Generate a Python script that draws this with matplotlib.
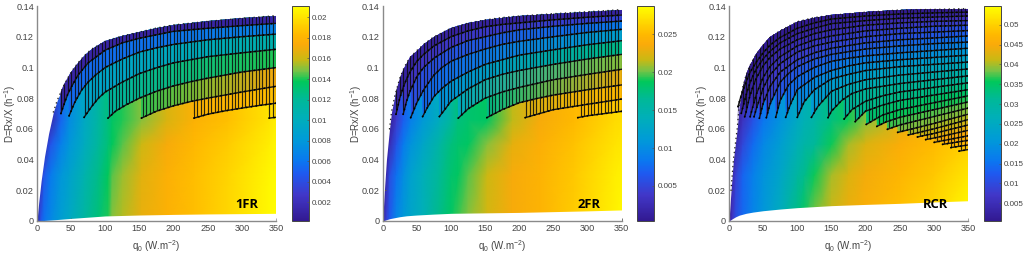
import numpy as np
import matplotlib
matplotlib.use('Agg')
import matplotlib.pyplot as plt
from matplotlib.colors import LinearSegmentedColormap
from matplotlib.patches import Polygon

plt.rcParams['font.family'] = ['Liberation Sans', 'DejaVu Sans']
plt.rcParams['mathtext.default'] = 'regular'

x_ticks = [0, 50, 100, 150, 200, 250, 300, 350]
y_ticks = [0, 0.02, 0.04, 0.06, 0.08, 0.1, 0.12, 0.14]
y_labels = ['0', '0.02', '0.04', '0.06', '0.08', '0.1', '0.12', '0.14']
hatch_q = np.arange(0, 351, 5)
field_d = [0, 0.03, 0.05, 0.066, 0.14]

# ---- 1FR
names1 = '1FR'
top_q1 = [0, 2.5, 6, 11, 17, 24, 30, 40, 50, 60, 70, 80, 100, 125, 150, 175, 200, 250, 300, 350]
top_d1 = [0, 0.012, 0.026, 0.042, 0.057, 0.071, 0.079, 0.089, 0.097, 0.103, 0.108, 0.112, 0.117,
          0.1205, 0.123, 0.1257, 0.1277, 0.130, 0.132, 0.1337]
bot_q1 = [0, 25, 50, 100, 150, 200, 250, 300, 350]
bot_d1 = [0, 0.0008, 0.0017, 0.0033, 0.0039, 0.0043, 0.0046, 0.0048, 0.0050]
curve_q1 = [[35, 40, 45, 50, 60, 75, 100, 125, 150, 200, 250, 300, 350],
            [47, 55, 65, 75, 87, 100, 125, 150, 175, 200, 250, 300, 350],
            [69, 80, 90, 100, 125, 150, 175, 200, 250, 300, 350],
            [104, 115, 130, 150, 175, 200, 225, 250, 300, 350],
            [153, 175, 200, 225, 250, 300, 350],
            [230, 250, 275, 300, 325, 350],
            [340, 350]]
curve_d1 = [[0.070, 0.0765, 0.0825, 0.087, 0.095, 0.103, 0.1113, 0.116, 0.119, 0.1235, 0.1255, 0.1272, 0.1287],
            [0.0685, 0.077, 0.085, 0.0905, 0.0955, 0.100, 0.1055, 0.110, 0.1128, 0.115, 0.118, 0.120, 0.1217],
            [0.0675, 0.0745, 0.080, 0.084, 0.0905, 0.096, 0.0998, 0.103, 0.107, 0.1095, 0.1118],
            [0.067, 0.0715, 0.0755, 0.080, 0.0845, 0.088, 0.0907, 0.093, 0.097, 0.0999],
            [0.067, 0.0715, 0.075, 0.0778, 0.080, 0.084, 0.0877],
            [0.067, 0.0695, 0.0717, 0.0735, 0.0752, 0.0767],
            [0.067, 0.0675]]
band_left1 = [0.0012, 0.0055, 0.009, 0.0115, 0.0142, 0.018, 0.0195]
band_right1 = [0.0012, 0.0068, 0.0108, 0.014, 0.0172, 0.0185, 0.0195]
field_q1 = [0, 5, 10, 20, 35, 47, 69, 90, 104, 110, 125, 153, 190, 230, 280, 340, 350]
field1 = [[.0003, .0045, .0058, .007, .0085, .0095, .0115, .013, .0140, .0150, .0156, .0168, .0178, .0185, .0195, .0208, .021],
          [.0003, .0018, .0045, .0062, .0078, .0088, .0108, .0125, .0137, .0145, .0153, .0166, .0177, .0185, .0194, .0207, .0209],
          [.0003, .0003, .0015, .0045, .0065, .0078, .0098, .0118, .013, .0137, .0145, .016, .0172, .0183, .0191, .0204, .0207],
          [.0003, .0003, .0003, .0015, .0052, .0072, .0095, .0115, .0128, .0135, .014, .015, .0163, .0178, .0186, .020, .0205],
          [.0003, .0003, .0003, .0015, .0052, .0072, .0095, .0115, .0128, .0135, .014, .015, .0163, .0178, .0186, .020, .0205]]
range1 = (0.0002, 0.0211)
cticks1 = [0.002, 0.004, 0.006, 0.008, 0.01, 0.012, 0.014, 0.016, 0.018, 0.02]
clabels1 = ['0.002', '0.004', '0.006', '0.008', '0.01', '0.012', '0.014', '0.016', '0.018', '0.02']

# ---- 2FR
names2 = '2FR'
top_q2 = [0, 2.5, 5.5, 10, 13, 18, 25, 30, 35, 40, 50, 60, 75, 100, 125, 150, 175, 200, 250, 300, 350]
top_d2 = [0, 0.02, 0.04, 0.06, 0.0712, 0.082, 0.093, 0.0985, 0.103, 0.1065, 0.111, 0.115, 0.120, 0.1255,
          0.1288, 0.131, 0.1325, 0.1335, 0.135, 0.1363, 0.1376]
bot_q2 = [0, 10, 25, 35, 50, 75, 100, 200, 300, 350]
bot_d2 = [0, 0.0015, 0.0028, 0.0034, 0.0039, 0.0045, 0.005, 0.0056, 0.0066, 0.0072]
curve_q2 = [[19.5, 25, 30, 35, 40, 50, 60, 75, 100, 125, 150, 175, 200, 250, 300, 350],
            [30, 35, 40, 50, 60, 75, 100, 125, 150, 175, 200, 250, 300, 350],
            [41, 50, 60, 75, 87, 100, 125, 150, 175, 200, 250, 300, 350],
            [58.5, 65, 75, 87, 100, 125, 150, 175, 200, 250, 300, 350],
            [83, 90, 100, 125, 150, 175, 200, 250, 300, 350],
            [110.7, 125, 150, 175, 200, 250, 300, 350],
            [152.6, 175, 200, 225, 250, 300, 350],
            [208.7, 250, 300, 350],
            [285.7, 300, 350]]
curve_d2 = [[0.0695, 0.080, 0.087, 0.0925, 0.097, 0.104, 0.1085, 0.114, 0.120, 0.1238, 0.1265, 0.128, 0.129, 0.131, 0.1327, 0.1341],
            [0.0695, 0.078, 0.0845, 0.094, 0.100, 0.106, 0.113, 0.1175, 0.120, 0.1225, 0.1245, 0.1268, 0.1287, 0.1302],
            [0.0673, 0.077, 0.0855, 0.095, 0.100, 0.104, 0.1085, 0.112, 0.115, 0.117, 0.120, 0.1228, 0.1248],
            [0.068, 0.0735, 0.081, 0.0865, 0.091, 0.097, 0.102, 0.105, 0.108, 0.1115, 0.1148, 0.1174],
            [0.068, 0.072, 0.078, 0.086, 0.092, 0.0955, 0.098, 0.102, 0.1055, 0.1085],
            [0.067, 0.073, 0.080, 0.084, 0.087, 0.092, 0.0955, 0.0988],
            [0.0673, 0.0725, 0.077, 0.0797, 0.082, 0.0855, 0.0886],
            [0.0673, 0.0725, 0.076, 0.0794],
            [0.0673, 0.0685, 0.0714]]
band_left2 = [0.0015, 0.0035, 0.0055, 0.0075, 0.0105, 0.0135, 0.017, 0.0225, 0.025]
band_right2 = [0.0015, 0.005, 0.0085, 0.012, 0.017, 0.0205, 0.023, 0.025, 0.026]
field_q2 = [0, 5, 10, 20, 30, 41, 58, 83, 100, 110, 125, 153, 190, 230, 280, 340, 350]
field2 = [[.0005, .0045, .0065, .0095, .011, .0125, .014, .017, .0185, .0195, .0205, .022, .0235, .0245, .026, .028, .0285],
          [.0005, .002, .0055, .008, .010, .012, .0138, .0165, .018, .0185, .0198, .0218, .0235, .0245, .0258, .0278, .028],
          [.0005, .0007, .0025, .006, .0085, .0105, .0125, .0155, .0175, .018, .0185, .0205, .0228, .024, .0255, .0272, .0275],
          [.0005, .0005, .0008, .004, .0068, .0088, .0110, .0135, .016, .0175, .018, .0185, .0215, .0235, .025, .0268, .027],
          [.0005, .0005, .0008, .004, .0068, .0088, .0110, .0135, .016, .0175, .018, .0185, .0215, .0235, .025, .0268, .027]]
range2 = (0.00038, 0.02874)
cticks2 = [0.005, 0.01, 0.015, 0.02, 0.025]
clabels2 = ['0.005', '0.01', '0.015', '0.02', '0.025']

# ---- RCR
names3 = 'RCR'
top_q3 = [0, 1.5, 3, 6.5, 12, 15, 20, 25, 30, 35, 40, 50, 60, 75, 100, 125, 150, 200, 250, 300, 350]
top_d3 = [0, 0.01, 0.02, 0.04, 0.06, 0.0755, 0.087, 0.095, 0.1005, 0.105, 0.1085, 0.1146, 0.1195, 0.124,
          0.1298, 0.1325, 0.134, 0.136, 0.1374, 0.1378, 0.1383]
bot_q3 = [0, 5, 10, 15, 25, 35, 50, 75, 100, 150, 200, 250, 300, 350]
bot_d3 = [0, 0.0015, 0.0028, 0.0038, 0.005, 0.0058, 0.0067, 0.0078, 0.0087, 0.010, 0.0108, 0.0115, 0.0124, 0.0132]
curve_q3 = [[13.2, 16, 20, 25, 30, 35, 40, 50, 60, 75, 100, 125, 150, 200, 250, 300, 350],
            [18, 20, 25, 30, 35, 40, 50, 60, 75, 100, 125, 150, 200, 250, 300, 350],
            [23, 25, 30, 35, 40, 50, 60, 75, 100, 125, 150, 200, 250, 300, 350],
            [31, 35, 40, 50, 60, 75, 100, 125, 150, 200, 250, 300, 350],
            [36.7, 40, 50, 60, 75, 100, 125, 150, 200, 250, 300, 350],
            [44.5, 50, 60, 75, 100, 125, 150, 200, 250, 300, 350],
            [54.7, 60, 75, 87, 100, 125, 150, 200, 250, 300, 350],
            [68.4, 75, 87, 100, 125, 150, 175, 200, 250, 300, 350],
            [83, 90, 100, 125, 150, 175, 200, 250, 300, 350],
            [100, 110, 125, 150, 175, 200, 250, 300, 350],
            [120.7, 130, 150, 175, 200, 250, 300, 350],
            [145, 150, 165, 180, 200, 250, 300, 350],
            [168.6, 180, 200, 225, 250, 300, 350],
            [184.8, 200, 225, 250, 300, 350],
            [201, 225, 250, 300, 350],
            [216.5, 230, 250, 300, 350],
            [232, 250, 300, 350],
            [247, 250, 300, 350],
            [262.5, 300, 350],
            [276, 300, 350],
            [288, 300, 350],
            [300.6, 350],
            [312.8, 350],
            [325, 350],
            [337, 350]]
curve_d3 = [[0.0745, 0.079, 0.0845, 0.0905, 0.096, 0.100, 0.1035, 0.1095, 0.1145, 0.1195, 0.1255, 0.129, 0.1315, 0.1335, 0.1348, 0.1355, 0.136],
            [0.0701, 0.0735, 0.082, 0.089, 0.0945, 0.099, 0.1055, 0.1105, 0.116, 0.122, 0.1255, 0.1285, 0.1305, 0.132, 0.1328, 0.1335],
            [0.0679, 0.071, 0.0805, 0.0875, 0.093, 0.101, 0.1065, 0.112, 0.118, 0.122, 0.1245, 0.1275, 0.129, 0.130, 0.1305],
            [0.0679, 0.0745, 0.0825, 0.0935, 0.1005, 0.107, 0.114, 0.118, 0.1205, 0.1238, 0.1255, 0.1268, 0.1275],
            [0.0679, 0.073, 0.0865, 0.095, 0.1025, 0.110, 0.114, 0.1165, 0.120, 0.122, 0.123, 0.124],
            [0.0669, 0.0765, 0.0875, 0.097, 0.105, 0.1095, 0.1125, 0.116, 0.118, 0.1192, 0.1205],
            [0.0673, 0.076, 0.0905, 0.096, 0.1005, 0.1055, 0.1085, 0.112, 0.114, 0.1155, 0.1165],
            [0.0675, 0.0785, 0.0885, 0.094, 0.100, 0.104, 0.106, 0.1075, 0.1095, 0.111, 0.1125],
            [0.0675, 0.076, 0.0855, 0.0935, 0.098, 0.101, 0.103, 0.105, 0.1065, 0.108],
            [0.0675, 0.0775, 0.0855, 0.0925, 0.0955, 0.098, 0.1005, 0.102, 0.1035],
            [0.0675, 0.0745, 0.0845, 0.089, 0.092, 0.095, 0.097, 0.099],
            [0.0673, 0.0715, 0.0785, 0.083, 0.086, 0.0895, 0.092, 0.0945],
            [0.0664, 0.0725, 0.078, 0.0815, 0.084, 0.087, 0.090],
            [0.0647, 0.0715, 0.0755, 0.0785, 0.082, 0.0855],
            [0.0629, 0.069, 0.0725, 0.077, 0.0815],
            [0.0616, 0.0645, 0.0675, 0.0725, 0.0775],
            [0.0597, 0.0625, 0.068, 0.0735],
            [0.0577, 0.058, 0.0635, 0.0695],
            [0.056, 0.060, 0.066],
            [0.0547, 0.057, 0.0625],
            [0.053, 0.054, 0.059],
            [0.0512, 0.0555],
            [0.0499, 0.0525],
            [0.0478, 0.0495],
            [0.0455, 0.0465]]
band_left3 = [.001, .002, .003, .004, .0055, .007, .0085, .0115, .0145, .018, .0215, .026, .0305,
              .032, .034, .0355, .037, .0385, .04, .0415, .043, .0445, .0455, .047, .0485]
band_right3 = [.001, .0035, .006, .0085, .011, .013, .0155, .018, .021, .0235, .026, .0285, .031,
               .033, .035, .0365, .038, .039, .0405, .042, .0435, .045, .046, .0475, .049]
field_q3 = [0, 5, 10, 20, 35, 50, 75, 100, 110, 125, 150, 175, 200, 250, 300, 350]
field3 = [[.0005, .007, .0105, .014, .0175, .0205, .026, .033, .036, .039, .042, .044, .046, .0485, .051, .0545],
          [.0005, .004, .0085, .0135, .017, .020, .024, .030, .032, .036, .040, .0425, .0445, .047, .049, .052],
          [.0005, .0012, .004, .0095, .0145, .018, .022, .027, .029, .031, .036, .040, .0425, .0455, .0478, .05],
          [.0005, .0006, .001, .006, .011, .0155, .020, .025, .027, .029, .033, .036, .039, .043, .046, .048],
          [.0005, .0006, .001, .006, .011, .0155, .020, .025, .027, .029, .033, .036, .039, .043, .046, .048]]
range3 = (0.00055, 0.0547)
cticks3 = [0.005, 0.01, 0.015, 0.02, 0.025, 0.03, 0.035, 0.04, 0.045, 0.05]
clabels3 = ['0.005', '0.01', '0.015', '0.02', '0.025', '0.03', '0.035', '0.04', '0.045', '0.05']

cmap = LinearSegmentedColormap.from_list('cb', [
    (0.00, (50/255, 25/255, 145/255)), (0.12, (65/255, 55/255, 200/255)),
    (0.22, (30/255, 90/255, 240/255)), (0.28, (10/255, 120/255, 240/255)),
    (0.38, (0, 155/255, 215/255)), (0.48, (0, 175/255, 185/255)),
    (0.57, (0, 185/255, 150/255)), (0.65, (0, 200/255, 90/255)),
    (0.70, (120/255, 195/255, 70/255)), (0.75, (200/255, 185/255, 20/255)),
    (0.82, (250/255, 170/255, 10/255)), (0.87, (255/255, 185/255, 0)),
    (1.00, (255/255, 255/255, 0))])

GRAY = '#555555'


def band_poly(ax, cq, cd, tq, td):
    tq = np.array(tq)
    td = np.array(td)
    keep = tq >= cq[0]
    keep[np.argmax(keep) - 1] = True
    xy = list(zip(cq, cd)) + list(zip(tq[keep][::-1], td[keep][::-1]))
    return Polygon(xy, closed=True, transform=ax.transData, fc='none', ec='none')


def panel(x0, cx0, cw, name, name_q, name_d, top_q, top_d, bot_q, bot_d, curve_q, curve_d,
          band_left, band_right, field_q, field, vrange, cticks, clabels):
    ax = fig.add_axes([x0 / 1024, 1 - 221 / 254, 239 / 1024, 215 / 254])
    cax = fig.add_axes([cx0 / 1024, 1 - 221 / 254, cw / 1024, 215 / 254])
    vmin, vmax = vrange

    mesh = ax.pcolormesh(field_q, field_d, field, shading='gouraud', cmap=cmap,
                         vmin=vmin, vmax=vmax, zorder=1)
    ax.fill_between(top_q, top_d, 0.145, color='white', lw=0, zorder=2)
    ax.fill_between(bot_q, -0.01, bot_d, color='white', lw=0, zorder=2)

    # bands from the lowest curve upwards, the upper ones paint over
    for i in range(len(curve_q) - 1, -1, -1):
        cq, cd = curve_q[i], curve_d[i]
        poly = band_poly(ax, cq, cd, top_q, top_d)
        ax.add_patch(poly)
        m = ax.pcolormesh([cq[0], 350], [0, 0.14],
                          [[band_left[i], band_right[i]], [band_left[i], band_right[i]]],
                          shading='gouraud', cmap=cmap, vmin=vmin, vmax=vmax, zorder=3)
        m.set_clip_path(poly)
        end = curve_q[i + 1][0] if i + 1 < len(curve_q) else 351
        qs = hatch_q[(hatch_q >= cq[0]) & (hatch_q < end)]
        v = ax.vlines(qs, 0, 0.14, color='#0c0c0c', lw=0.85, alpha=0.85, zorder=4)
        v.set_clip_path(poly)

    first = curve_q[0][0] - 11
    tq = np.array(top_q)
    td = np.array(top_d)
    ax.plot(tq[tq >= first], td[tq >= first], color='#222222', lw=1.1,
            ls=(0, (0.1, 3.0)), dash_capstyle='round', zorder=6)
    for cq, cd in zip(curve_q, curve_d):
        ax.plot(cq, cd, color='#151515', lw=1.0, zorder=5)
        ax.plot(cq, cd, color='black', lw=1.3, ls=(0, (0.1, 2.6)), dash_capstyle='round', zorder=6)

    ax.set_xlim(0, 350)
    ax.set_ylim(0, 0.14)
    ax.set_xticks(x_ticks)
    ax.set_yticks(y_ticks)
    ax.set_yticklabels(y_labels)
    ax.tick_params(direction='in', length=2.2, width=0.7, color=GRAY, labelcolor='#444444',
                   labelsize=6.6, pad=2.2)
    for s in ['top', 'right']:
        ax.spines[s].set_visible(False)
    for s in ['left', 'bottom']:
        ax.spines[s].set_color('#8a8a8a')
        ax.spines[s].set_linewidth(1.0)
    ax.set_xlabel(r'q$_0$ (W.m$^{-2}$)', fontsize=7.0, color='#444444')
    ax.set_ylabel(r'D=Rx/X (h$^{-1}$)', fontsize=7.0, color='#444444')
    ax.xaxis.set_label_coords(0.5, -0.08)
    ax.yaxis.set_label_coords(-0.08, 0.5)
    ax.text(name_q, name_d, name, fontsize=9.4, fontweight='bold', family='Open Sans',
            color='black', ha='center', va='center', zorder=7)

    cb = fig.colorbar(mesh, cax=cax)
    cb.set_ticks(cticks)
    cb.set_ticklabels(clabels)
    cb.ax.tick_params(direction='in', length=1.5, width=0.5, color=GRAY, labelcolor='#444444',
                      labelsize=5.8, pad=2.5)
    cb.outline.set_edgecolor('#444444')
    cb.outline.set_linewidth(0.7)


fig = plt.figure(figsize=(10.24, 2.54), dpi=100)
panel(37, 292, 16.5, names1, 307, 0.0105, top_q1, top_d1, bot_q1, bot_d1, curve_q1, curve_d1,
      band_left1, band_right1, field_q1, field1, range1, cticks1, clabels1)
panel(382.7, 637, 17, names2, 302, 0.0105, top_q2, top_d2, bot_q2, bot_d2, curve_q2, curve_d2,
      band_left2, band_right2, field_q2, field2, range2, cticks2, clabels2)
panel(729, 983.5, 17, names3, 303, 0.0108, top_q3, top_d3, bot_q3, bot_d3, curve_q3, curve_d3,
      band_left3, band_right3, field_q3, field3, range3, cticks3, clabels3)
fig.savefig('out.png', dpi=100)
